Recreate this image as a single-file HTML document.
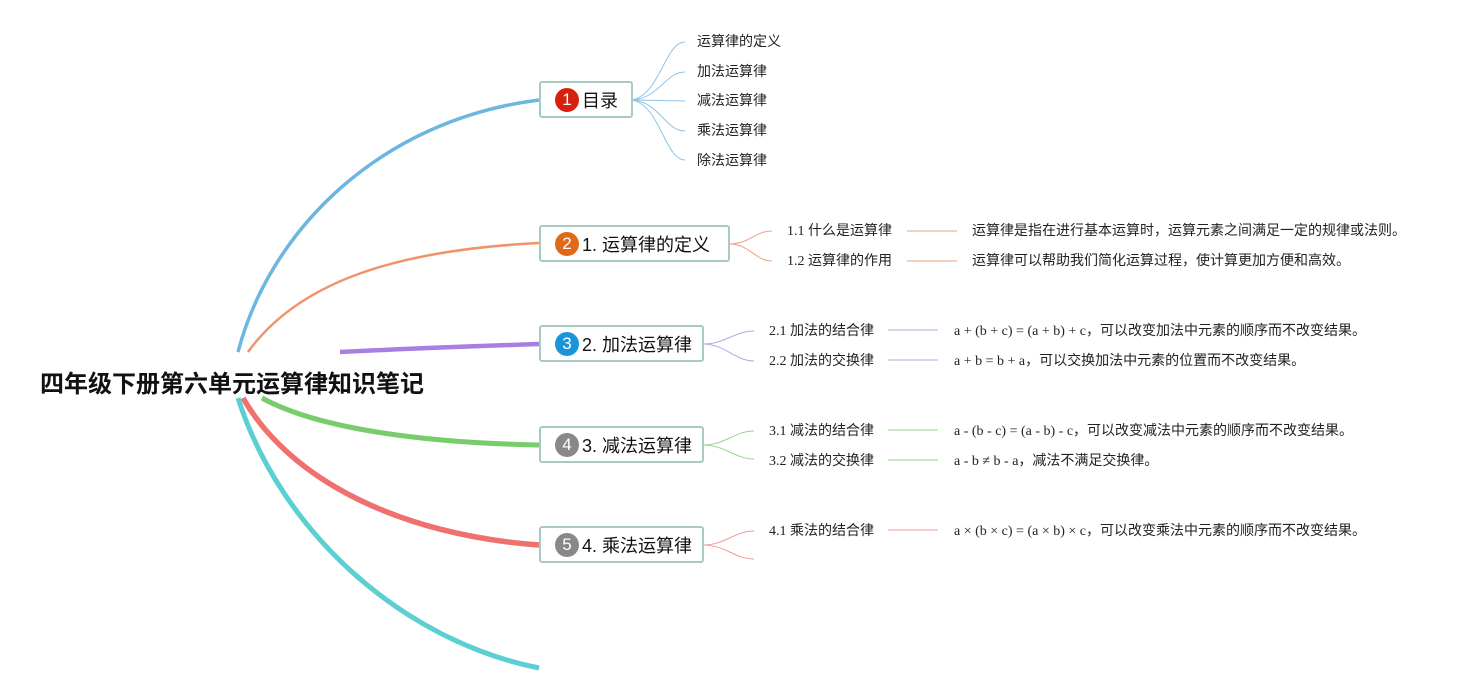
<!DOCTYPE html>
<html><head><meta charset="utf-8"><style>
body{margin:0;width:1466px;height:695px;background:#fff;overflow:hidden;position:relative;font-family:"Liberation Sans","Noto Sans CJK SC",sans-serif;}
.t{position:absolute;font-size:14px;color:#222;white-space:nowrap;line-height:16px;font-family:"Liberation Serif","Noto Sans CJK SC",serif;margin-top:1px;}
.n{position:absolute;border:2px solid #a7cbc3;border-radius:3px;background:#fff;height:37px;box-sizing:border-box;font-size:18px;color:#111;display:flex;align-items:center;padding-left:14px;white-space:nowrap;}
.c{display:inline-block;width:24px;height:24px;border-radius:50%;color:#fff;font-size:17px;text-align:center;line-height:24px;margin-right:3px;}
</style></head><body>
<svg width="1466" height="695" style="position:absolute;left:0;top:0" fill="none">
<path d="M238,352 C270,230 380,120 539,100" stroke="#6bb7e0" stroke-width="3.5"/>
<path d="M248,352 C300,280 400,250 539,243" stroke="#ef9468" stroke-width="2.5"/>
<path d="M340,352 C420,348 480,346 539,344" stroke="#a77fe0" stroke-width="4.5"/>
<path d="M262,398 C320,430 430,443 539,445" stroke="#78cc6c" stroke-width="5"/>
<path d="M243,398 C290,480 400,535 539,545" stroke="#f0706e" stroke-width="5.5"/>
<path d="M238,398 C280,530 400,640 539,668" stroke="#5ccfd2" stroke-width="5"/>
<g stroke="#8fc4e8" stroke-width="1">
<path d="M632,100 C660,95 665,42 685,42"/><path d="M632,100 C660,98 665,72 685,72"/><path d="M632,100 L685,101"/><path d="M632,100 C660,102 665,131 685,131"/><path d="M632,100 C660,105 665,160 685,160"/>
</g>
<g stroke="#f0a07c" stroke-width="1"><path d="M729,244 C750,244 755,231 772,231"/><path d="M729,244 C750,244 755,261 772,261"/><path d="M907,231 H957"/><path d="M907,261 H957"/></g>
<g stroke="#b7a6e6" stroke-width="1"><path d="M703,344 C725,344 735,331 754,331"/><path d="M703,344 C725,344 735,361 754,361"/><path d="M888,330 H938"/><path d="M888,360 H938"/></g>
<g stroke="#96d58c" stroke-width="1"><path d="M703,445 C725,445 735,431 754,431"/><path d="M703,445 C725,445 735,459 754,459"/><path d="M888,430 H938"/><path d="M888,460 H938"/></g>
<g stroke="#f09a9a" stroke-width="1"><path d="M703,545 C725,545 735,531 754,531"/><path d="M703,545 C725,545 735,559 754,559"/><path d="M888,530 H938"/></g>
</svg>
<div style="position:absolute;left:40px;top:364px;font-size:24px;font-weight:bold;color:#111;white-space:nowrap">四年级下册第六单元运算律知识笔记</div>
<div class="n" style="left:539px;top:81px;width:94px"><span class="c" style="background:#d8200f">1</span>目录</div>
<div class="n" style="left:539px;top:225px;width:191px"><span class="c" style="background:#e06a1a">2</span>1. 运算律的定义</div>
<div class="n" style="left:539px;top:325px;width:165px"><span class="c" style="background:#1a95dc">3</span>2. 加法运算律</div>
<div class="n" style="left:539px;top:426px;width:165px"><span class="c" style="background:#888">4</span>3. 减法运算律</div>
<div class="n" style="left:539px;top:526px;width:165px"><span class="c" style="background:#888">5</span>4. 乘法运算律</div>
<div class="t" style="left:697px;top:34px">运算律的定义</div>
<div class="t" style="left:697px;top:64px">加法运算律</div>
<div class="t" style="left:697px;top:93px">减法运算律</div>
<div class="t" style="left:697px;top:123px">乘法运算律</div>
<div class="t" style="left:697px;top:153px">除法运算律</div>
<div class="t" style="left:787px;top:223px">1.1 什么是运算律</div>
<div class="t" style="left:787px;top:253px">1.2 运算律的作用</div>
<div class="t" style="left:972px;top:223px">运算律是指在进行基本运算时，运算元素之间满足一定的规律或法则。</div>
<div class="t" style="left:972px;top:253px">运算律可以帮助我们简化运算过程，使计算更加方便和高效。</div>
<div class="t" style="left:769px;top:323px">2.1 加法的结合律</div>
<div class="t" style="left:769px;top:353px">2.2 加法的交换律</div>
<div class="t" style="left:954px;top:323px">a + (b + c) = (a + b) + c，可以改变加法中元素的顺序而不改变结果。</div>
<div class="t" style="left:954px;top:353px">a + b = b + a，可以交换加法中元素的位置而不改变结果。</div>
<div class="t" style="left:769px;top:423px">3.1 减法的结合律</div>
<div class="t" style="left:769px;top:453px">3.2 减法的交换律</div>
<div class="t" style="left:954px;top:423px">a - (b - c) = (a - b) - c，可以改变减法中元素的顺序而不改变结果。</div>
<div class="t" style="left:954px;top:453px">a - b ≠ b - a，减法不满足交换律。</div>
<div class="t" style="left:769px;top:523px">4.1 乘法的结合律</div>
<div class="t" style="left:954px;top:523px">a × (b × c) = (a × b) × c，可以改变乘法中元素的顺序而不改变结果。</div>
</body></html>
